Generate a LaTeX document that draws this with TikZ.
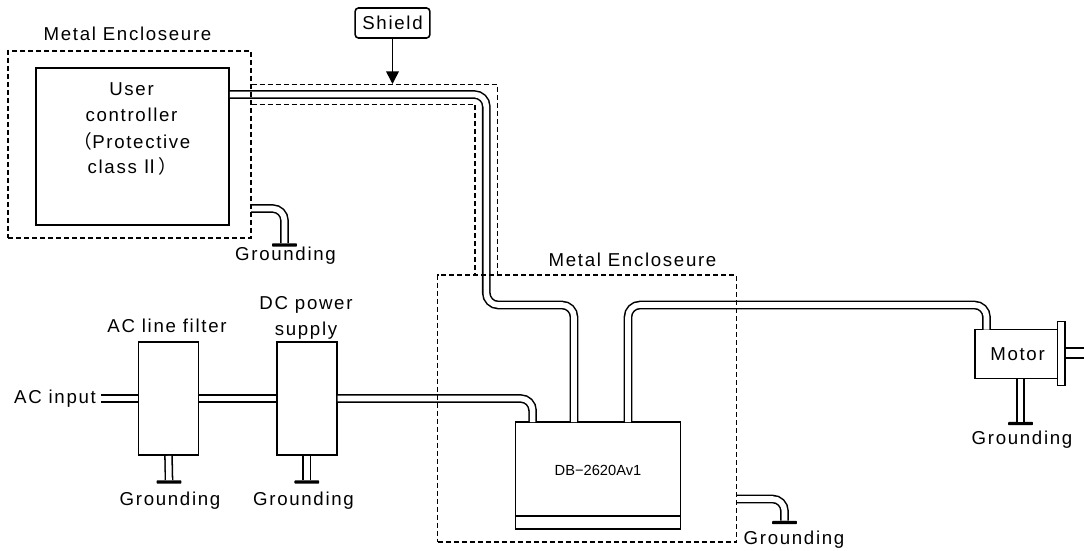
\documentclass[tikz,border=0pt]{standalone}
\usepackage{fontspec}
\setmainfont{Liberation Sans}[LetterSpace=9]
\newfontfamily\plainfont{Liberation Sans}
\newfontfamily\cjkfont{Noto Sans CJK JP}
\usetikzlibrary{arrows.meta}
\tikzset{
  lab/.style={inner sep=0pt,font=\fontsize{14}{16}\selectfont,align=center},
  solidbox/.style={draw=black,line width=1.2pt,fill=white,inner sep=0pt},
  encl/.style={draw=black,line width=1.1pt,dash pattern=on 3.8pt off 2.2pt},
  tube/.style={draw=black,double=white,double distance=4.2pt,line width=1.15pt,rounded corners=9pt,line cap=butt},
  bar/.style={fill=black,inner sep=0pt,minimum height=2.4pt,rounded corners=0.5pt},
}
\begin{document}
\begin{tikzpicture}[x=0.75pt,y=-0.75pt]
\useasboundingbox (0,0) rectangle (1084,550);
% nodes
\node[solidbox,minimum width=144.75pt,minimum height=117.75pt] (ctrl) at (132.5,146.5) {};
\node[solidbox,minimum width=45pt,minimum height=85pt] (filter) at (168.5,398.5) {};
\node[solidbox,minimum width=45pt,minimum height=85pt] (dc) at (306.8,398.5) {};
\node[solidbox,minimum width=124pt,minimum height=80.25pt] (db) at (598,475.5) {};
\node[solidbox,minimum width=62pt,minimum height=37pt] (motor) at (1016.2,354) {};
\node[solidbox,minimum width=5.6pt,minimum height=47.8pt] (flange) at (1061.2,353.5) {};
\node[draw=black,line width=1.2pt,rounded corners=2.5pt,inner sep=0pt,minimum width=56pt,minimum height=22.5pt,lab] (shield) at (392.5,23) {Shield};
\coordinate (shieldtip) at (392.5,84);
\draw[line width=1.2pt,-{Triangle[length=9.5pt,width=9.5pt]}] (shield.south) -- (shieldtip);
% ground bars
\node[bar,minimum width=18.5pt] (g1) at (284.5,245) {};
\node[bar,minimum width=18.5pt] (g2) at (169,482) {};
\node[bar,minimum width=18.5pt] (g3) at (306.8,482) {};
\node[bar,minimum width=18.5pt] (g4) at (784.5,522.5) {};
\node[bar,minimum width=18.5pt] (g5) at (1020.5,423.5) {};
% coordinates
\coordinate (ctrlout) at (ctrl.east |- 0,94.5);
\coordinate (dbin1) at (532.6,422);
\coordinate (dbin2) at (574,422);
\coordinate (dbout) at (628,422);
\coordinate (motorin) at (986.5,329.5);
\coordinate (shaftend) at (1084,353);
\coordinate (encg1) at (251,208.5);
\coordinate (encg2) at (736,499);
% tubes
\draw[tube] (ctrlout) -- (486.3,94.5) -- (486.3,305) -- (574,305) -- (dbin2);
\draw[tube] (dc.east) -- (532.6,398.5) -- (dbin1);
\draw[tube] (dbout) -- (628,305) -- (986.5,305) -- (motorin);
\coordinate (acstart) at (101,398.5);
\draw[tube] (acstart) -- (filter.west);
\draw[tube] (filter.east) -- (dc.west);
\draw[tube] (filter.south) -- (g2.north);
\draw[tube] (dc.south) -- (g3.north);
\draw[tube] (motor.south -| g5) -- (g5.north);
\draw[tube] (encg1) -- (284.5,208.5) -- (g1.north);
\draw[tube] (encg2) -- (784.5,499) -- (g4.north);
\draw[tube,double distance=6.6pt] (flange.east |- shaftend) -- (shaftend);
% enclosures
\node[encl,inner sep=0pt,minimum width=182.25pt,minimum height=140.25pt] (enc1) at (129.5,144.5) {};
\node[encl,inner sep=0pt,minimum width=224pt,minimum height=200.25pt] (enc2) at (587,408.5) {};
% shield dashes
\coordinate (sa) at (enc1.east |- 0,84.3);
\coordinate (sb) at (enc1.east |- 0,104.3);
\draw[encl] (sa) -- (497.3,84.3) -- (497.3,275);
\draw[encl] (sb) -- (475,104.3) -- (475,275);
% inner strip of the driver
\coordinate (stripa) at (db.west |- 0,515.7);
\coordinate (stripb) at (db.east |- 0,515.7);
\draw[line width=1.2pt] (stripa) -- (stripb);
% labels
\node[lab] (t1) at (127.5,34) {Metal Encloseure};
\node[lab] (t2) at (632.5,259.5) {Metal Encloseure};
\node[lab] (t3) at (131.5,89) {User};
\node[lab] (t4) at (131.5,115) {controller};
\node[lab] (t5) at (132,141) {{\cjkfont （}Protective};
\node[lab] (t6) at (132.5,166.5) {class\,{\cjkfont Ⅱ）}};
\node[lab] (t7) at (285.5,255.5) {Grounding};
\node[lab] (t8) at (55,398.5) {AC input};
\node[lab] (t9) at (167,326) {AC line filter};
\node[lab] (t10) at (306,305) {DC power};
\node[lab] (t11) at (306,331) {supply};
\node[lab] (t12) at (170,500.5) {Grounding};
\node[lab] (t13) at (303.5,500.5) {Grounding};
\node[lab] (t14) at (794,540) {Grounding};
\node[lab] (t15) at (1022,440) {Grounding};
\node[lab] (t16) at (1017.5,354.5) {Motor};
\node[inner sep=0pt,font=\plainfont\fontsize{11}{13}\selectfont] (t17) at (598,470) {DB−2620Av1};
\end{tikzpicture}
\end{document}
